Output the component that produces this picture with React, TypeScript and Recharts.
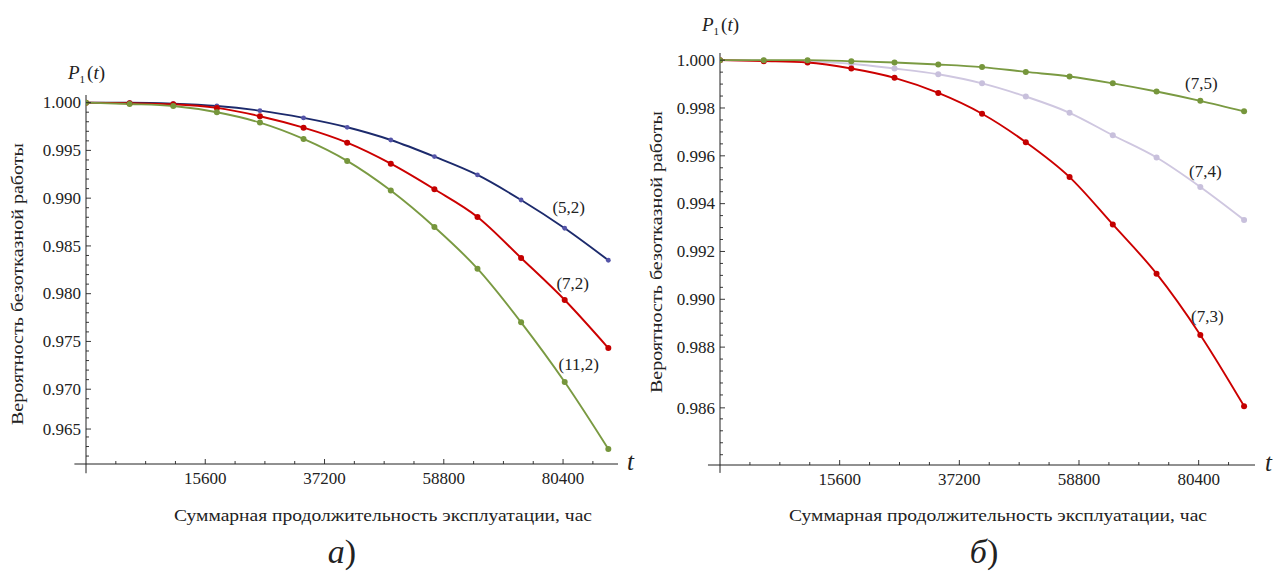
import React from "react";
import { LineChart, Line, XAxis, YAxis, ReferenceLine, LabelList } from "recharts";

const SERIF = '"Liberation Serif", "Times New Roman", serif';
const INK = "#222";

// summary operating time, hours (point positions on the t axis)
const tHours = [-6000, 1900, 9800, 17700, 25500, 33400, 41300, 49200, 57100, 64900, 72800, 80700, 88600];

// panel a)
const p52 = [1.0, 1.0, 0.9999, 0.99965, 0.99916, 0.9984, 0.99742, 0.99609, 0.99435, 0.99243, 0.98981, 0.98685, 0.9835];
const p72 = [1.0, 0.99994, 0.99983, 0.99945, 0.99858, 0.99738, 0.99581, 0.99361, 0.99093, 0.98803, 0.98374, 0.97934, 0.97431];
const p112 = [1.0, 0.99986, 0.99965, 0.99899, 0.99791, 0.9962, 0.9939, 0.99079, 0.98698, 0.98262, 0.977, 0.97075, 0.96374];

// panel б)
const p75 = [1.0, 1.0, 1.0, 0.99996, 0.9999, 0.99982, 0.99971, 0.99951, 0.99932, 0.99903, 0.99869, 0.9983, 0.99786];
const p74 = [1.0, 0.99999, 0.99995, 0.99985, 0.99965, 0.99941, 0.99903, 0.99848, 0.9978, 0.99686, 0.99593, 0.9947, 0.99332];
const p73 = [1.0, 0.99996, 0.9999, 0.99965, 0.99926, 0.99863, 0.99776, 0.99657, 0.99511, 0.99313, 0.99107, 0.98851, 0.98553];

// ticks
const xMajor = [15600, 37200, 58800, 80400];
const xMajorLabels = ["15600", "37200", "58800", "80400"];
const yMajorA = [1.0, 0.995, 0.99, 0.985, 0.98, 0.975, 0.97, 0.96583];
const yLabelsA = ["1.000", "0.995", "0.990", "0.985", "0.980", "0.975", "0.970", "0.965"];
const yMajorB = [1.0, 0.998, 0.996, 0.994, 0.992, 0.99, 0.988, 0.98546];
const yLabelsB = ["1.000", "0.998", "0.996", "0.994", "0.992", "0.990", "0.988", "0.986"];

const dataA = tHours.map((t, i) => ({ t, s52: p52[i], s72: p72[i], s112: p112[i] }));
const dataB = tHours.map((t, i) => ({ t, s75: p75[i], s74: p74[i], s73: p73[i] }));

function allTicks(majors: number[], start: number, step: number, end: number) {
  const out = [...majors];
  for (let v = start; v >= end; v -= step) {
    const r = Math.round(v * 100000) / 100000;
    if (!majors.some((m) => Math.abs(m - r) < step * 0.8)) out.push(r);
  }
  return out.sort((a, b) => a - b);
}

const xTicks = (() => {
  const out: number[] = [];
  for (let v = -600; v <= 90000; v += 5400) out.push(v);
  return out;
})();

const yTicksA = allTicks(yMajorA, 0.999, 0.001, 0.9625);
const yTicksB = allTicks(yMajorB, 0.9995, 0.0005, 0.9832);

function yTick(majors: number[], labels: string[]) {
  return (props: any) => {
    const { x, y, payload } = props;
    const i = majors.findIndex((m) => Math.abs(m - payload.value) < 1e-9);
    return (
      <g>
        <line x1={x} y1={y} x2={x + (i >= 0 ? 5 : 3)} y2={y} stroke={INK} strokeWidth={0.9} />
        {i >= 0 && (
          <text x={x - 5} y={y} dy="0.34em" textAnchor="end" fontSize={17} fontFamily={SERIF} fill={INK}>
            {labels[i]}
          </text>
        )}
      </g>
    );
  };
}

function xTick(props: any) {
  const { x, y, payload } = props;
  const i = xMajor.indexOf(payload.value);
  return (
    <g>
      <line x1={x} y1={y} x2={x} y2={y - (i >= 0 ? 5 : 3)} stroke={INK} strokeWidth={0.9} />
      {i >= 0 && (
        <text x={x} y={y + 20} textAnchor="middle" fontSize={17} fontFamily={SERIF} fill={INK}>
          {xMajorLabels[i]}
        </text>
      )}
    </g>
  );
}

function curveLabel(text: string, dx: number, dy: number) {
  return (props: any) => {
    if (props.index !== 11) return null;
    return (
      <text x={props.x + dx} y={props.y + dy} dy="0.34em" textAnchor="middle" fontSize={17} fontFamily={SERIF} fill={INK}>
        {text}
      </text>
    );
  };
}

function Series({ k, stroke, dotFill, r, label, dx, dy }: any) {
  return (
    <Line
      dataKey={k}
      type="monotone"
      stroke={stroke}
      strokeWidth={1.9}
      dot={{ r, fill: dotFill, stroke: "none" }}
      activeDot={false}
      isAnimationActive={false}
    >
      <LabelList content={curveLabel(label, dx, dy)} />
    </Line>
  );
}

export default function App() {
  const xDomA: [number, number] = [-6000, 90350];
  const yDomA: [number, number] = [0.96217, 1.0008];
  const xDomB: [number, number] = [-6000, 90570];
  const yDomB: [number, number] = [0.98307, 1.0003];
  return (
    <div style={{ position: "absolute", left: 0, top: 0, width: 1274, height: 575, background: "#fff" }}>
      <div style={{ position: "absolute", left: 0, top: 0 }}>
        <LineChart width={640} height={575} data={dataA} margin={{ top: 95, right: 22, bottom: 81, left: 26 }}>
          <XAxis
            dataKey="t"
            type="number"
            domain={xDomA}
            allowDataOverflow
            ticks={xTicks}
            interval={0}
            height={30}
            tickSize={0}
            tickMargin={0}
            tickLine={false}
            axisLine={{ stroke: INK, strokeWidth: 1 }}
            tick={xTick}
          />
          <YAxis
            type="number"
            domain={yDomA}
            allowDataOverflow
            ticks={yTicksA}
            interval={0}
            width={60}
            tickSize={0}
            tickMargin={0}
            tickLine={false}
            axisLine={{ stroke: INK, strokeWidth: 1 }}
            tick={yTick(yMajorA, yLabelsA)}
          />
          <ReferenceLine segment={[{ x: -8100, y: yDomA[0] }, { x: -6000, y: yDomA[0] }]} stroke={INK} ifOverflow="visible" />
          <ReferenceLine segment={[{ x: -6000, y: yDomA[0] }, { x: -6000, y: 0.9612 }]} stroke={INK} ifOverflow="visible" />
          {Series({ k: "s52", stroke: "#1c2a6c", dotFill: "#5454a8", r: 2.4, label: "(5,2)", dx: 4, dy: -21 })}
          {Series({ k: "s72", stroke: "#cc0000", dotFill: "#c40000", r: 3, label: "(7,2)", dx: 8, dy: -17 })}
          {Series({ k: "s112", stroke: "#7a9a42", dotFill: "#76963c", r: 3, label: "(11,2)", dx: 14, dy: -18 })}
        </LineChart>
      </div>
      <div style={{ position: "absolute", left: 637, top: 0 }}>
        <LineChart width={637} height={575} data={dataB} margin={{ top: 53, right: 19, bottom: 80, left: 23 }}>
          <XAxis
            dataKey="t"
            type="number"
            domain={xDomB}
            allowDataOverflow
            ticks={xTicks}
            interval={0}
            height={30}
            tickSize={0}
            tickMargin={0}
            tickLine={false}
            axisLine={{ stroke: INK, strokeWidth: 1 }}
            tick={xTick}
          />
          <YAxis
            type="number"
            domain={yDomB}
            allowDataOverflow
            ticks={yTicksB}
            interval={0}
            width={60}
            tickSize={0}
            tickMargin={0}
            tickLine={false}
            axisLine={{ stroke: INK, strokeWidth: 1 }}
            tick={yTick(yMajorB, yLabelsB)}
          />
          <ReferenceLine segment={[{ x: -8170, y: yDomB[0] }, { x: -6000, y: yDomB[0] }]} stroke={INK} ifOverflow="visible" />
          <ReferenceLine segment={[{ x: -6000, y: yDomB[0] }, { x: -6000, y: 0.98274 }]} stroke={INK} ifOverflow="visible" />
          {Series({ k: "s74", stroke: "#cfc7e0", dotFill: "#c8c0dc", r: 3, label: "(7,4)", dx: 5, dy: -16 })}
          {Series({ k: "s73", stroke: "#cc0000", dotFill: "#c40000", r: 3, label: "(7,3)", dx: 7, dy: -19 })}
          {Series({ k: "s75", stroke: "#7a9a42", dotFill: "#76963c", r: 3, label: "(7,5)", dx: 1, dy: -18 })}
        </LineChart>
      </div>
      <svg width={1274} height={575} style={{ position: "absolute", left: 0, top: 0, pointerEvents: "none" }}>
        <g fontFamily={SERIF} fill={INK}>
          <text x={68} y={79} fontSize={19}>
            <tspan fontStyle="italic">P</tspan>
            <tspan fontSize={11} dy={4}>1</tspan>
            <tspan dy={-4} dx={2}>(</tspan>
            <tspan fontStyle="italic">t</tspan>
            <tspan>)</tspan>
          </text>
          <text x={702} y={31} fontSize={19}>
            <tspan fontStyle="italic">P</tspan>
            <tspan fontSize={11} dy={4}>1</tspan>
            <tspan dy={-4} dx={2}>(</tspan>
            <tspan fontStyle="italic">t</tspan>
            <tspan>)</tspan>
          </text>
          <text x={627} y={470} fontSize={25} fontStyle="italic">t</text>
          <text x={1265} y={471} fontSize={25} fontStyle="italic">t</text>
          <text transform="translate(17,284) rotate(-90)" textAnchor="middle" dy="0.34em" fontSize={17} textLength={282} lengthAdjust="spacingAndGlyphs">
            Вероятность безотказной работы
          </text>
          <text transform="translate(656,252) rotate(-90)" textAnchor="middle" dy="0.34em" fontSize={17} textLength={282} lengthAdjust="spacingAndGlyphs">
            Вероятность безотказной работы
          </text>
          <text x={174} y={521} fontSize={17} textLength={418} lengthAdjust="spacingAndGlyphs">
            Суммарная продолжительность эксплуатации, час
          </text>
          <text x={789} y={521} fontSize={17} textLength={418} lengthAdjust="spacingAndGlyphs">
            Суммарная продолжительность эксплуатации, час
          </text>
          <text x={342} y={563} fontSize={34} textAnchor="middle">
            <tspan fontStyle="italic">а</tspan>)
          </text>
          <text x={984} y={563} fontSize={34} textAnchor="middle">
            <tspan fontStyle="italic">б</tspan>)
          </text>
        </g>
      </svg>
    </div>
  );
}
